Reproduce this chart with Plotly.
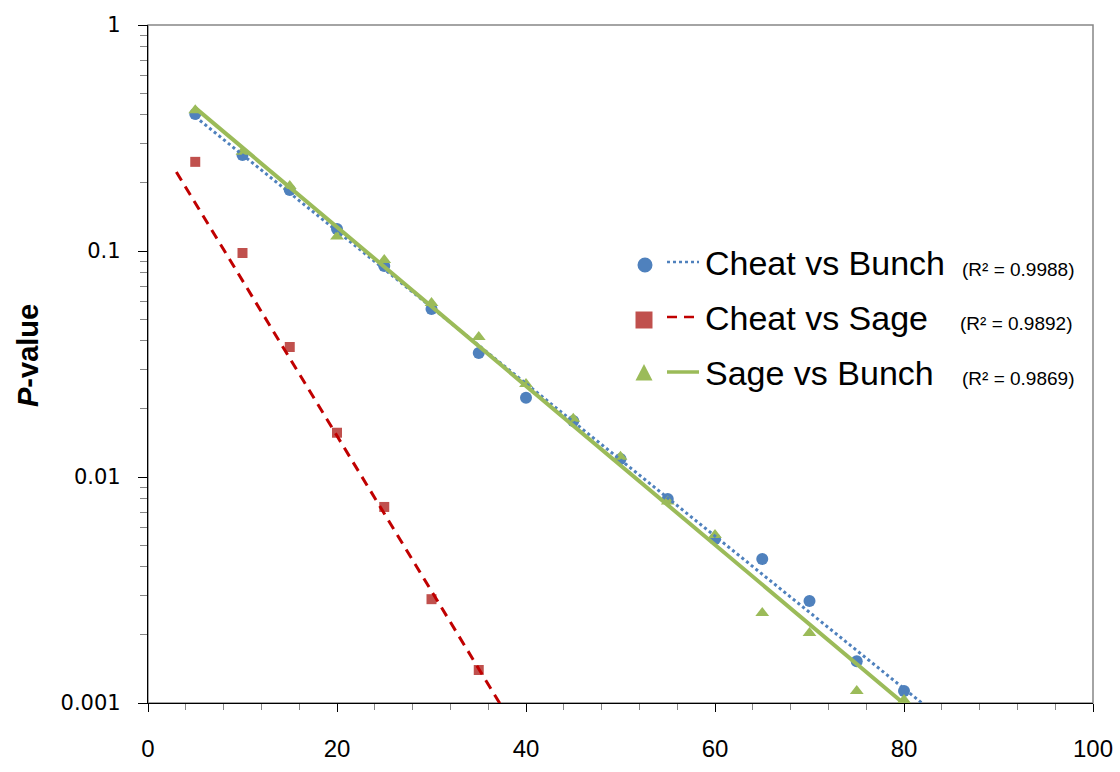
import numpy as np
import plotly.graph_objects as go

# ---- data -------------------------------------------------------------
pct = [5, 10, 15, 20, 25, 30, 35, 40, 45, 50, 55, 60, 65, 70, 75, 80]
cheat_vs_bunch = [0.404, 0.266, 0.186, 0.125, 0.0859, 0.0554, 0.0354, 0.0224,
                  0.0177, 0.0120, 0.0080, 0.00532, 0.00434, 0.00283, 0.00153, 0.00113]
sage_vs_bunch = [0.420, 0.275, 0.194, 0.116, 0.0912, 0.0589, 0.0416, 0.0258,
                 0.0181, 0.0123, 0.0078, 0.00554, 0.0025, 0.00204, 0.00113, 0.00103]
pct_cs = [5, 10, 15, 20, 25, 30, 35]
cheat_vs_sage = [0.248, 0.098, 0.0376, 0.0157, 0.00737, 0.00288, 0.0014]

series_names = ["Cheat vs Bunch", "Cheat vs Sage", "Sage vs Bunch"]
r_squared = ["0.9988", "0.9892", "0.9869"]

# exponential trendlines: log10(p) = intercept + slope * x
trend_log10_intercept = [-0.237, -0.444, -0.191]
trend_log10_slope = [-0.03374, -0.0687, -0.03515]
trend_x_span = [(5, 85), (3, 40), (5, 80)]

x_tickvals = [0, 20, 40, 60, 80, 100]
y_tickvals = [0.001, 0.01, 0.1, 1]
y_ticktext = ["0.001", "0.01", "0.1", "1"]

# ---- styling ----------------------------------------------------------
blue, red, green = "#4f81bd", "#c0504d", "#9bbb59"
trend_red = "#c00000"
border_grey = "#868686"

W, H = 1120, 772
L, R, T, B = 148, 1093, 25, 703


def px_x(px):
    return (px - L) / (R - L)


def px_y(py):
    return (B - py) / (B - T)


fig = go.Figure()

# markers
fig.add_trace(go.Scatter(x=pct, y=cheat_vs_bunch, mode="markers", name=series_names[0],
                         marker=dict(symbol="circle", size=12, color=blue),
                         cliponaxis=False, showlegend=False))
fig.add_trace(go.Scatter(x=pct_cs, y=cheat_vs_sage, mode="markers", name=series_names[1],
                         marker=dict(symbol="square", size=10, color=red),
                         cliponaxis=False, showlegend=False))
fig.add_trace(go.Scatter(x=pct, y=sage_vs_bunch, mode="markers", name=series_names[2],
                         marker=dict(symbol="triangle-up", size=12, color=green),
                         cliponaxis=False, showlegend=False))

# trendlines
trend_styles = [
    dict(color=blue, width=3, dash="dot"),
    dict(color=trend_red, width=3, dash="10px,7px"),
    dict(color=green, width=4, dash="solid"),
]
for i in range(3):
    xs = np.linspace(trend_x_span[i][0], trend_x_span[i][1], 60)
    ys = 10 ** (trend_log10_intercept[i] + trend_log10_slope[i] * xs)
    fig.add_trace(go.Scatter(x=xs, y=ys, mode="lines", line=trend_styles[i],
                             hoverinfo="skip", showlegend=False))

shapes = []
# plot-area border (top and right show grey)
shapes.append(dict(type="rect", xref="paper", yref="paper", x0=0, x1=1, y0=0, y1=1,
                   line=dict(color=border_grey, width=1.5), layer="below"))

# legend keys
rows = [263, 318, 373]
# circle
shapes.append(dict(type="circle", xref="paper", yref="paper",
                   x0=px_x(645 - 7.5), x1=px_x(645 + 7.5),
                   y0=px_y(265 + 7.5), y1=px_y(265 - 7.5),
                   fillcolor=blue, line=dict(width=0)))
# square
shapes.append(dict(type="rect", xref="paper", yref="paper",
                   x0=px_x(644 - 8.5), x1=px_x(644 + 8.5),
                   y0=px_y(320 + 8.5), y1=px_y(320 - 8.5),
                   fillcolor=red, line=dict(width=0)))
# triangle
tx, ty = 644, 373
shapes.append(dict(type="path", xref="paper", yref="paper",
                   path=(f"M {px_x(tx - 8.5)},{px_y(ty + 7.5)} "
                         f"L {px_x(tx + 8.5)},{px_y(ty + 7.5)} "
                         f"L {px_x(tx)},{px_y(ty - 9)} Z"),
                   fillcolor=green, line=dict(width=0)))
# line samples
sample_y = [262, 317, 372]
for i in range(3):
    st = trend_styles[i]
    shapes.append(dict(type="line", xref="paper", yref="paper",
                       x0=px_x(667), x1=px_x(699), y0=px_y(sample_y[i]), y1=px_y(sample_y[i]),
                       line=dict(color=st["color"], width=st["width"] - 0.5 if i < 2 else 3.5,
                                 dash=st["dash"])))

annotations = []
label_font = dict(family="Liberation Sans, Arial, sans-serif", size=34, color="black")
r2_font = dict(family="Liberation Sans, Arial, sans-serif", size=19, color="black")
r2_x = [962, 960, 962]
r2_y = [269, 323, 379]
for i in range(3):
    annotations.append(dict(xref="paper", yref="paper", x=px_x(703), y=px_y(rows[i]),
                            xanchor="left", yanchor="middle", showarrow=False,
                            text=series_names[i], font=label_font))
    annotations.append(dict(xref="paper", yref="paper", x=px_x(r2_x[i] - 2), y=px_y(r2_y[i]),
                            xanchor="left", yanchor="middle", showarrow=False,
                            text=f"(R² = {r_squared[i]})", font=r2_font))

# y-axis title
annotations.append(dict(xref="paper", yref="paper", x=px_x(28), y=px_y(356),
                        xanchor="center", yanchor="middle", showarrow=False, textangle=-90,
                        text="<b><i>P</i>-value</b>",
                        font=dict(family="Liberation Sans, Arial, sans-serif", size=29,
                                  color="black")))

fig.update_layout(
    width=W, height=H,
    margin=dict(l=L, r=W - R, t=T, b=H - B, pad=0, autoexpand=False),
    paper_bgcolor="white", plot_bgcolor="white",
    shapes=shapes, annotations=annotations,
    showlegend=False,
    xaxis=dict(range=[0, 100], tickvals=x_tickvals, showgrid=False, zeroline=False,
               automargin=False,
               showline=True, linecolor="black", linewidth=1.3,
               ticks="outside", ticklen=8, tickwidth=1.3, tickcolor="black",
               ticklabelstandoff=16,
               tickfont=dict(family="Liberation Sans, Arial, sans-serif", size=24, color="black"),
               minor=dict(dtick=4, ticks="outside", ticklen=6, tickwidth=1.2,
                          tickcolor=border_grey, showgrid=False)),
    yaxis=dict(type="log", range=[-3, 0], tickvals=y_tickvals, ticktext=y_ticktext,
               showgrid=False, zeroline=False, automargin=False,
               showline=True, linecolor="black", linewidth=1.3,
               ticks="outside", ticklen=9, tickwidth=1.3, tickcolor="black",
               ticklabelstandoff=13,
               tickfont=dict(family="DejaVu Sans, Verdana, sans-serif", size=21, color="black"),
               minor=dict(dtick="D1", ticks="outside", ticklen=7, tickwidth=1.2,
                          tickcolor=border_grey, showgrid=False)),
)

fig.write_html("out.html")
